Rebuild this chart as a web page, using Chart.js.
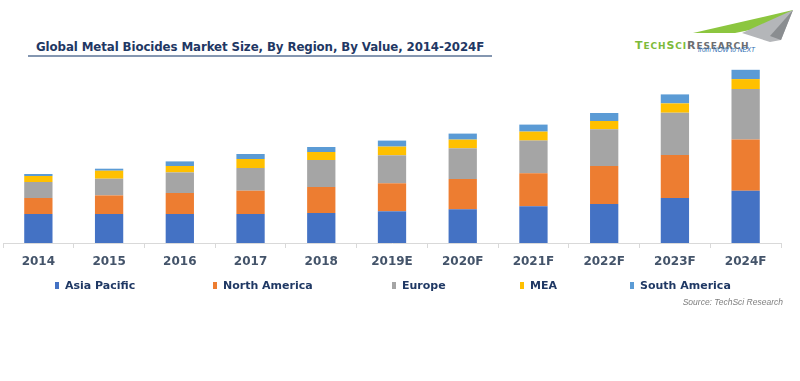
<!DOCTYPE html>
<html lang="en">
<head>
    <meta charset="UTF-8">
    <title>Global Metal Biocides Market Size</title>
    <style>
        * { margin: 0; padding: 0; box-sizing: border-box; }
        body { width: 800px; height: 381px; background: #fff; position: relative; overflow: hidden; font-family: 'DejaVu Sans', Verdana, sans-serif; }
        .title {
            position: absolute; left: 28px; top: 40px;
            font-size: 11.8px; font-weight: bold; color: #1F3864;
            padding: 0 8px 1px 8px; border-bottom: 2px solid #8496B0;
            white-space: nowrap; letter-spacing: -0.1px;
        }
        .logo { position: absolute; left: 630px; top: 0; width: 170px; height: 60px; }
        .logo .name { position: absolute; left: 5px; top: 34px; font-family: 'DejaVu Sans', sans-serif; font-weight: bold; white-space: nowrap; letter-spacing: 0.9px; }
        .logo .tech { color: #7DBA3A; font-size: 9px; }
        .logo .res { color: #6D6E71; font-size: 9px; }
        .logo .big { font-size: 11px; }
        .logo .tag { position: absolute; left: 68px; top: 46px; font-size: 6.5px; font-style: italic; color: #2B6CB0; white-space: nowrap; font-family: 'Liberation Sans', Arial, sans-serif; }
        #wrap { position: absolute; left: 0; top: 63px; width: 800px; height: 217px; }
        .legend { position: absolute; top: 279px; left: 0; width: 800px; height: 16px; }
        .legend .item { position: absolute; top: 0; font-family: 'DejaVu Sans', Verdana, sans-serif; font-weight: bold; font-size: 11px; color: #1F3864; white-space: nowrap; }
        .legend .sw { display: inline-block; width: 4px; height: 7px; margin-right: 6px; vertical-align: 0px; }
        .source { position: absolute; right: 17px; top: 297px; font-family: 'Liberation Sans', Arial, sans-serif; font-size: 8.5px; font-style: italic; color: #7F7F7F; }
    </style>
</head>
<body>
    <div class="title">Global Metal Biocides Market Size, By Region, By Value, 2014-2024F</div>

    <div class="logo">
        <svg width="170" height="60" style="position:absolute;left:0;top:0">
            <polygon points="63,33 163,10 150,24 105,33" fill="#8CC63F"/>
            <polygon points="112,33 163,10 151,40 140,42" fill="#B4B6B9"/>
            <polygon points="140,36 163,10 151,40" fill="#8A8D90"/>
        </svg>
        <div class="name"><span class="tech"><span class="big">T</span>ECH<span class="big">S</span>CI</span><span class="res"><span class="big">R</span>ESEARCH</span></div>
        <div class="tag">from NOW to NEXT</div>
    </div>

    <div id="wrap"><canvas id="chart"></canvas></div>

    <div class="legend" id="legend"></div>
    <div class="source">Source: TechSci Research</div>

    <script src="https://cdn.jsdelivr.net/npm/chart.js"></script>
    <script>
        // Categories and series (relative market size)
        const years = ["2014", "2015", "2016", "2017", "2018", "2019E", "2020F", "2021F", "2022F", "2023F", "2024F"];
        const seriesNames = ["Asia Pacific", "North America", "Europe", "MEA", "South America"];
        const seriesColors = ["#4472C4", "#ED7D31", "#A5A5A5", "#FFC000", "#5B9BD5"];

        const asiaPacific = [29, 29, 29, 29, 30, 31.7, 33.7, 36.7, 39, 45, 52.3];
        const northAmerica = [16, 18.6, 21, 23.3, 26, 28, 30.3, 33, 38, 43, 51.3];
        const europe = [16, 16.7, 20.6, 22.7, 27, 28, 30.7, 32.7, 36.7, 42.3, 50.3];
        const mea = [6, 8, 6.4, 9, 8, 8.7, 8.7, 9, 8.3, 9.3, 10];
        const southAmerica = [2, 2, 4.6, 5, 5, 6, 6, 7, 8, 9, 9.3];

        const seriesValues = [asiaPacific, northAmerica, europe, mea, southAmerica];
        const legendX = [55, 213, 392, 520, 630];

        // HTML legend
        const legend = document.getElementById('legend');
        seriesNames.forEach((name, i) => {
            const item = document.createElement('div');
            item.className = 'item';
            item.style.left = legendX[i] + 'px';
            item.innerHTML = '<span class="sw" style="background:' + seriesColors[i] + '"></span>' + name;
            legend.appendChild(item);
        });

        const ctx = document.getElementById('chart').getContext('2d');
        new Chart(ctx, {
            type: 'bar',
            data: {
                labels: years,
                datasets: seriesNames.map((name, i) => ({
                    label: name,
                    data: seriesValues[i],
                    backgroundColor: seriesColors[i],
                    borderWidth: 0,
                    categoryPercentage: 1,
                    barPercentage: 0.4
                }))
            },
            options: {
                responsive: true,
                maintainAspectRatio: false,
                animation: false,
                layout: { padding: { left: 3, right: 19, top: 0, bottom: 0 } },
                scales: {
                    x: {
                        stacked: true,
                        grid: { drawOnChartArea: false, drawTicks: true, tickLength: 5, color: '#D9D9D9', offset: true },
                        border: { display: true, color: '#D9D9D9', width: 1 },
                        ticks: { color: '#44546A', font: { family: 'DejaVu Sans', size: 12, weight: 'bold' }, padding: 7, maxRotation: 0 },
                        afterFit: (scale) => { scale.height = 37; }
                    },
                    y: {
                        stacked: true,
                        display: false,
                        min: 0,
                        max: 180
                    }
                },
                plugins: {
                    legend: { display: false },
                    tooltip: { enabled: false }
                }
            }
        });
    </script>
</body>
</html>
